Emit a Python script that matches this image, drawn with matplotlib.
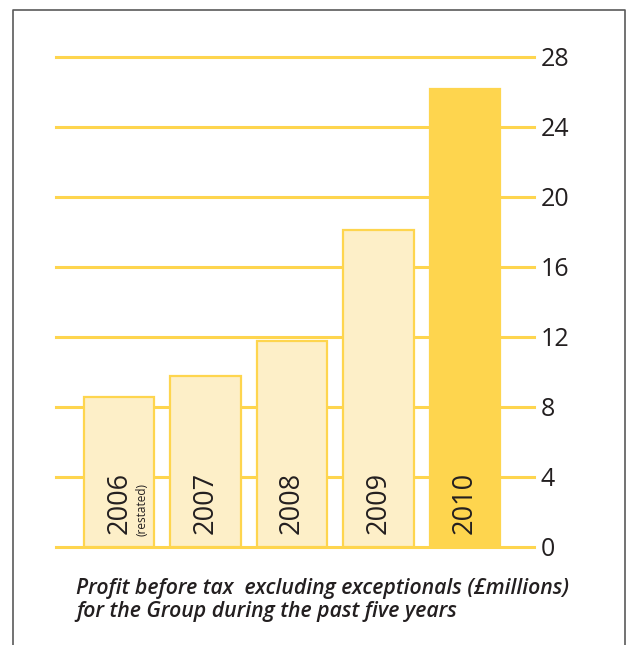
import matplotlib.pyplot as plt
from matplotlib.lines import Line2D

# profit before tax excluding exceptionals, £m
years = ['2006', '2007', '2008', '2009', '2010']
profit = [8.6, 9.8, 11.75, 18.1, 26.2]
yticks = [0, 4, 8, 12, 16, 20, 24, 28]
caption = ['Profit before tax  excluding exceptionals (£millions)',
           'for the Group during the past five years']

light = '#FDEFC8'
gold = '#FED54E'
ink = '#231F20'

plt.rcParams['font.family'] = ['Open Sans', 'DejaVu Sans']

W, H = 629, 645
fig = plt.figure(figsize=(W / 100, H / 100), dpi=100)

# axes placed by pixel: gridlines x 56..534, y 0 at 547, 28 at 57
x0, x1, ytop, ybot = 56, 534, 57, 547
ax = fig.add_axes([x0 / W, 1 - ybot / H, (x1 - x0) / W, (ybot - ytop) / H])
step = 86.5
ax.set_xlim((x0 - 119) / step, (x1 - 119) / step)
ax.set_ylim(0, 28)

for v in yticks:
    ax.axhline(v, color=gold, lw=2.2, zorder=1, clip_on=False)

xs = list(range(len(years)))
fills = [light] * 4 + [gold]
ax.bar(xs, profit, width=0.82, color=fills, edgecolor=gold, linewidth=1.6,
       zorder=2, clip_on=False)

for x, yr in zip(xs, years):
    dx = 0.01 if yr == '2006' else 0.0
    ax.text(x + dx, 0.75, yr, rotation=90, ha='center', va='bottom',
            fontsize=19.5, color=ink, zorder=3)
ax.text(0.265, 0.6, '(restated)', rotation=90, ha='center', va='bottom',
        fontsize=8.5, color=ink, zorder=3)

ax.yaxis.tick_right()
ax.set_yticks(yticks)
ax.set_yticklabels([str(v) for v in yticks], fontsize=18, color=ink)
ax.tick_params(axis='y', length=0, pad=5)
ax.set_xticks([])
for s in ax.spines.values():
    s.set_visible(False)

# caption, two lines
for line, yb in zip(caption, [594, 617]):
    fig.text(76 / W, 1 - yb / H, line, fontsize=15.3, style='italic',
             weight='semibold', color=ink, ha='left', va='baseline')

# frame (open at the bottom)
fig.add_artist(Line2D([12.5 / W, 12.5 / W, 625 / W, 625 / W],
                      [0, 1 - 10 / H, 1 - 10 / H, 0],
                      color='#5a5a5a', lw=1.2, transform=fig.transFigure))

fig.savefig('out.png', dpi=100)
